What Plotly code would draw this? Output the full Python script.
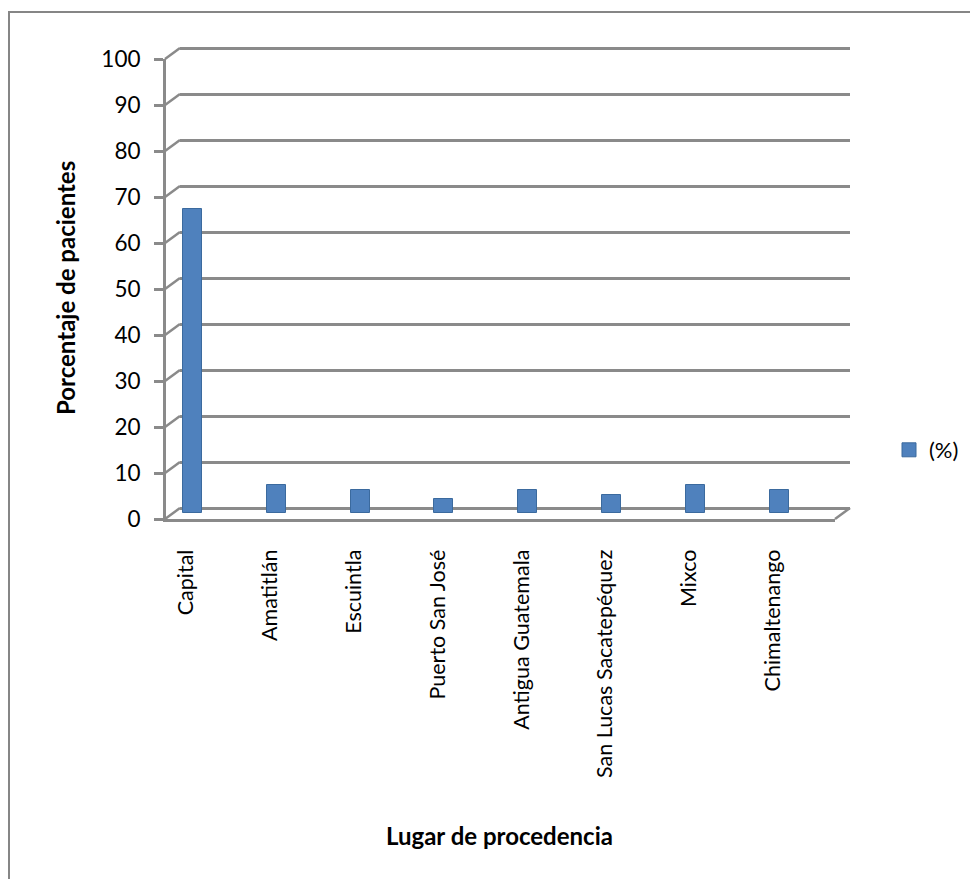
import plotly.graph_objects as go

# Lugar de procedencia de los pacientes (%)
lugares = ["Capital", "Amatitlán", "Escuintla", "Puerto San José",
           "Antigua Guatemala", "San Lucas Sacatepéquez", "Mixco", "Chimaltenango"]
porcentajes = [66, 6, 5, 3, 5, 4, 6, 5]
serie = "(%)"
y_ticks = list(range(0, 101, 10))

W, H = 970, 879
FONT = "Lato"
GRID = "#8A8A8A"
BAR = "#4F81BD"


def px_x(p):
    return p / W


def px_y(p):
    return 1 - p / H


# pixel geometry of the pseudo-3D frame
FRONT_X0, FRONT_X1 = 166, 835     # front floor edge
FRONT_TOP, FRONT_BOT = 59, 519    # front value axis (100 -> 0)
BACK_X0, BACK_X1 = 180, 850       # back wall
BACK_TOP, BACK_BOT = 48, 508
BAR_TOP, BAR_BOT = 53, 513        # columns sit mid-depth
STEP = 83.8                       # px per category
LABEL_C0 = 186.5                  # first label centre
BAR_C0 = 192.5                    # first column centre
BAR_W = 19
PAD = 1.0                         # value padding so the 0 and 100 gridlines are drawn
PPU = (BACK_BOT - BACK_TOP) / 100  # px per percentage point

lab_r0 = -(LABEL_C0 - FRONT_X0) / STEP
lab_r1 = lab_r0 + (FRONT_X1 - FRONT_X0) / STEP
bar_r0 = -(BAR_C0 - FRONT_X0) / STEP
bar_r1 = bar_r0 + (FRONT_X1 - FRONT_X0) / STEP

fig = go.Figure()

# back wall (gridlines) on x/y
fig.add_trace(go.Scatter(x=[0], y=[0], xaxis="x", yaxis="y", mode="markers",
                         marker=dict(opacity=0), showlegend=False, hoverinfo="skip"))
# front axes with labels on x2/y2
fig.add_trace(go.Scatter(x=lugares, y=porcentajes, xaxis="x2", yaxis="y2", mode="markers",
                         marker=dict(opacity=0), showlegend=False, hoverinfo="skip"))
# columns on x3/y3
fig.add_trace(go.Bar(x=lugares, y=porcentajes, xaxis="x3", yaxis="y3", name=serie,
                     width=BAR_W / STEP, showlegend=False,
                     marker=dict(color=BAR, line=dict(color="#3B6A9E", width=1))))
# legend key for the series
fig.add_trace(go.Scatter(x=[None], y=[None], xaxis="x3", yaxis="y3", name=serie,
                         mode="markers", showlegend=True,
                         marker=dict(symbol="square", size=14, color=BAR,
                                     line=dict(color="#3B6A9E", width=1))))

axis_off = dict(showgrid=False, zeroline=False, showline=False, showticklabels=False,
                ticks="", automargin=False)

fig.update_layout(
    template="none",
    width=W, height=H,
    margin=dict(l=0, r=0, t=0, b=0, autoexpand=False),
    paper_bgcolor="white",
    plot_bgcolor="rgba(0,0,0,0)",
    font=dict(family=FONT, size=22, color="black"),
    showlegend=True,
    legend=dict(x=px_x(889), y=px_y(450), xanchor="left", yanchor="middle",
                itemsizing="trace",
                font=dict(family=FONT, size=22, color="black"),
                bgcolor="rgba(0,0,0,0)", borderwidth=0),
    bargap=0,
    xaxis=dict(domain=[px_x(BACK_X0), px_x(BACK_X1)], range=[0, 1], anchor="y", **axis_off),
    yaxis=dict(domain=[px_y(BACK_BOT + PAD * PPU), px_y(BACK_TOP - PAD * PPU)],
               range=[-PAD, 100 + PAD], anchor="x", automargin=False,
               showgrid=True, gridcolor=GRID, gridwidth=2.5, tickvals=y_ticks,
               zeroline=False, showline=False, showticklabels=False, ticks=""),
    xaxis2=dict(domain=[px_x(FRONT_X0), px_x(FRONT_X1)], anchor="y2", type="category",
                categoryarray=lugares, range=[lab_r0, lab_r1], automargin=False,
                showgrid=False, zeroline=False, showline=True, linecolor=GRID, linewidth=3,
                ticks="", tickangle=-90, ticklabelstandoff=19,
                tickfont=dict(family=FONT, size=21.5, color="black")),
    yaxis2=dict(domain=[px_y(FRONT_BOT), px_y(FRONT_TOP)], anchor="x2", range=[0, 100],
                tickvals=y_ticks, showgrid=False, zeroline=False, automargin=False,
                showline=True, linecolor=GRID, linewidth=3,
                ticks="outside", ticklen=9, tickwidth=2.5, tickcolor=GRID,
                ticklabelstandoff=9,
                tickfont=dict(family=FONT, size=22.5, color="black")),
    xaxis3=dict(domain=[px_x(FRONT_X0), px_x(FRONT_X1)], anchor="y3", type="category",
                categoryarray=lugares, range=[bar_r0, bar_r1], **axis_off),
    yaxis3=dict(domain=[px_y(BAR_BOT), px_y(BAR_TOP)], anchor="x3", range=[0, 100], **axis_off),
)

shapes = []
# connectors from each front tick to its back-wall gridline
for v in y_ticks:
    yf = FRONT_BOT - (FRONT_BOT - FRONT_TOP) * v / 100
    yb = BACK_BOT - (BACK_BOT - BACK_TOP) * v / 100
    shapes.append(dict(type="line", xref="paper", yref="paper",
                       x0=px_x(FRONT_X0 - 1), y0=px_y(yf), x1=px_x(BACK_X0), y1=px_y(yb),
                       line=dict(color=GRID, width=2.5)))
# right edge of the floor
shapes.append(dict(type="line", xref="paper", yref="paper",
                   x0=px_x(FRONT_X1), y0=px_y(FRONT_BOT), x1=px_x(BACK_X1), y1=px_y(BACK_BOT),
                   line=dict(color=GRID, width=2.5)))
# chart area border
shapes.append(dict(type="rect", xref="paper", yref="paper",
                   x0=px_x(9), y0=-0.05, x1=1.05, y1=px_y(12),
                   line=dict(color="#868686", width=2), fillcolor="rgba(0,0,0,0)"))
fig.update_layout(shapes=shapes)

fig.add_annotation(text="<b>Porcentaje de pacientes</b>", textangle=-90,
                   xref="paper", yref="paper", x=px_x(65), y=px_y(288),
                   xanchor="center", yanchor="middle", showarrow=False,
                   font=dict(family=FONT, size=24, color="black"))
fig.add_annotation(text="<b>Lugar de procedencia</b>",
                   xref="paper", yref="paper", x=px_x(500), y=px_y(835),
                   xanchor="center", yanchor="middle", showarrow=False,
                   font=dict(family=FONT, size=24, color="black"))

fig.write_html("out.html")
